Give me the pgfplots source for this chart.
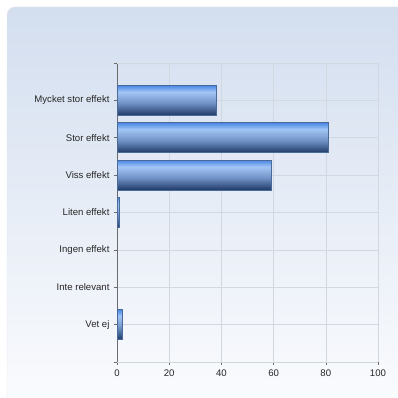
\documentclass[border=0pt]{standalone}
\usepackage{fontspec}
\setmainfont{Liberation Sans}
\usepackage{pgfplots}
\pgfplotsset{compat=1.18}
\definecolor{panelTop}{HTML}{D3DEEF}
\definecolor{panelBot}{HTML}{FBFCFE}
\definecolor{panelEdge}{HTML}{E2E6EC}
\definecolor{gridc}{HTML}{D3D8E0}
\definecolor{axisc}{HTML}{6B6B6B}
\definecolor{barDark}{HTML}{1E3966}
\definecolor{barMid}{HTML}{6F90C4}
\definecolor{barLight}{HTML}{A3C5F5}
\definecolor{barTop}{HTML}{4A88E4}
\definecolor{barEdge}{HTML}{4A6A9A}
\pgfdeclareverticalshading{barshade}{100bp}{color(0bp)=(barDark); color(25bp)=(barDark); color(45bp)=(barMid); color(64bp)=(barLight); color(75bp)=(barTop); color(100bp)=(barTop)}
\begin{document}
\begin{tikzpicture}
\useasboundingbox (0pt,0pt) rectangle (397pt,398pt);
\shade[top color=panelTop, bottom color=panelBot, draw=panelEdge, rounded corners=8pt] (7pt,-12pt) rectangle (410pt,391pt);
\begin{axis}[
  at={(117pt,36pt)}, anchor=south west, scale only axis,
  width=261pt, height=299pt,
  xmin=0, xmax=100, ymin=0, ymax=8, y dir=reverse,
  xtick={0,20,...,100},
  ytick={1,...,7},
  yticklabels={Mycket stor effekt,Stor effekt,Viss effekt,Liten effekt,Ingen effekt,Inte relevant,Vet ej},
  extra y ticks={0,8}, extra y tick labels={},
  extra y tick style={grid=major},
  grid=major, major grid style={gridc, line width=0.5pt},
  axis x line*=bottom, axis y line*=left,
  axis line style={axisc, line width=0.7pt, -},
  tick style={axisc, line width=0.6pt},
  tick align=outside, major tick length=3pt,
  ticklabel style={font=\fontsize{9.6}{11}\selectfont, text=black!85},
  /pgf/number format/assume math mode=true,
  xticklabel style={yshift=-1pt},
  yticklabel style={xshift=-1pt},
  clip=false,
  xbar, bar width=30pt, bar shift=0pt,
  every axis plot post/.append style={draw=barEdge, line width=0.5pt, shade, shading=barshade, forget plot},
]
\draw[gridc, line width=0.5pt] (axis cs:0,0) -- (axis cs:100,0);
\draw[gridc, line width=0.5pt] (axis cs:100,0) -- (axis cs:100,8);
\addplot coordinates {(38,1)};
\addplot coordinates {(81,2)};
\addplot coordinates {(59,3)};
\addplot coordinates {(1,4)};
\addplot coordinates {(2,7)};
\end{axis}
\end{tikzpicture}
\end{document}
